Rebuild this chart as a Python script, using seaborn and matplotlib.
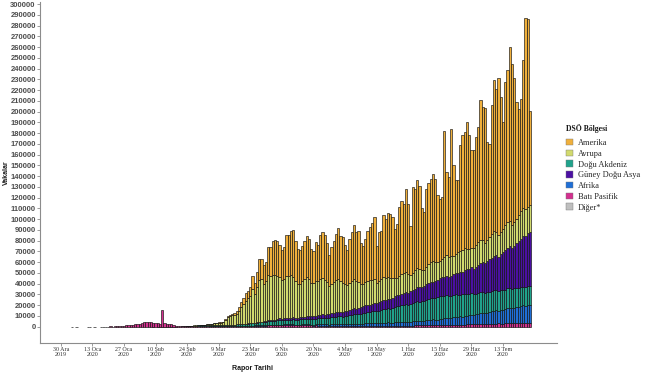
"""Daily COVID-19 cases by WHO region, stacked bar chart (WHO situation reports)."""

import matplotlib

matplotlib.use("Agg")

import matplotlib.pyplot as plt
import numpy as np
import pandas as pd
import seaborn as sns
from matplotlib.patches import Patch

# daily new cases in thousands, one value per report day starting 30 Dec 2019
AMERIKA = [
    0, 0, 0, 0, 0, 0, 0, 0, 0, 0,
    0, 0, 0, 0, 0, 0, 0, 0, 0, 0,
    0, 0, 0, 0, 0, 0, 0, 0, 0, 0,
    0, 0, 0, 0, 0, 0, 0, 0, 0, 0,
    0, 0, 0, 0, 0, 0, 0, 0, 0, 0,
    0, 0, 0, 0, 0, 0, 0, 0, 0, 0,
    0, 0,
    0.01, 0.02, 0.03, 0.05, 0.05, 0.05, 0.1, 0.1, 0.2, 0.3, 0.3, 1.1,
    0.9, 1.2, 1.5, 1.8, 2.5, 3.5, 5.0, 5.5, 6.8, 6.5, 8.0, 12.0, 11.0, 14.0,
    20.0, 19.0, 17.0, 18.0, 26.0, 27.0, 32.0, 33.0, 33.0, 30.0, 28.0, 30.0, 38.0,
    38.3, 40.9, 43.4, 37.4, 32.6, 31.6, 32.8, 35.6, 37.7, 37.3,
    31.3, 29.8, 36.1, 33.7, 40.6, 42.6, 41.3, 36.5, 28.9, 34.2,
    38.1, 42.2, 47.2, 41.3, 41.9, 36.2, 32.6, 41.3, 45.4, 50.8,
    45.7, 47.1, 37.9, 35.6, 40.7, 46.4, 49.5, 52.5, 57.7, 33.9,
    45.9, 44.9, 57.7,
    54.8, 59.0, 59.7, 56.6, 45.8, 50.0, 63.9, 67.9, 64.4, 77.2,
    64.9, 45.6, 79.6, 75.0, 81.5, 77.0, 57.4, 54.0, 72.1, 75.5,
    77.1, 81.0, 77.5, 61.9, 57.8, 57.1, 116.8, 77.0, 74.1, 118.5,
    84.3, 68.3, 66.6, 97.9, 106.7, 108.1, 117.8, 105.6, 90.4, 90.5,
    100.2, 107.4, 130.0, 123.5, 125.1, 91.6, 86.4, 119.7, 140.3, 132.2,
    145.8, 125.5, 98.8, 133.2, 141.0, 161.7, 149.1, 134.0, 108.4, 97.9,
    104.6, 137.9, 177.8, 174.9, 87.8,
]

AVRUPA = [
    0, 0, 0, 0, 0, 0, 0, 0, 0, 0,
    0, 0, 0, 0, 0, 0, 0, 0, 0, 0,
    0, 0, 0, 0, 0, 0, 0, 0, 0, 0,
    0, 0, 0, 0, 0, 0, 0, 0, 0, 0,
    0, 0, 0, 0, 0, 0, 0, 0, 0, 0,
    0, 0, 0, 0,
    0.02, 0.05, 0.1, 0.1, 0.2, 0.25, 0.2, 0.3, 0.6, 0.5,
    0.6, 0.8, 0.9, 1.3, 1.8, 2.0, 2.0, 2.5, 3.0, 5.0,
    7.4, 8.1, 8.7, 9.2, 9.8, 12.2, 15.6, 18.7, 21.5, 23.3, 25.3, 31.8, 26.4, 32.4,
    38.4, 39.5, 35.0, 36.6, 42.0, 41.0, 41.7, 41.3, 39.8, 38.4, 35.8, 36.3, 38.9,
    38.5, 40.0, 38.0, 34.5, 31.0, 30.5, 33.0, 35.0, 36.5, 35.0,
    31.0, 30.0, 32.5, 31.5, 33.5, 34.0, 32.5, 30.0, 26.5, 27.5,
    29.0, 30.5, 31.0, 29.0, 27.5, 25.5, 23.5, 25.0, 26.0, 27.0,
    25.5, 24.5, 22.0, 20.5, 21.5, 22.5, 23.0, 22.0, 22.5, 19.0,
    19.5, 20.5, 21.0,
    20.0, 20.5, 19.5, 18.5, 17.0, 16.5, 17.5, 18.5, 18.0, 18.5,
    17.5, 15.5, 16.0, 17.5, 18.0, 17.5, 16.0, 15.0, 16.5, 17.5,
    18.5, 19.0, 18.0, 16.5, 16.0, 17.5, 19.0, 19.5, 18.5, 18.5,
    17.0, 17.5, 19.0, 20.0, 20.5, 20.5, 19.0,
    18.5, 18.0, 19.5, 20.5, 21.0, 21.5, 20.5, 19.0, 19.5, 21.0,
    22.0, 22.5, 21.5, 20.0, 20.5, 22.0, 23.0, 24.0, 23.5, 22.0,
    21.5, 23.0, 24.5, 25.5, 26.0, 25.0, 24.0, 25.0,
]

DOGU_AKDENIZ = [
    0, 0, 0, 0, 0, 0, 0, 0, 0, 0,
    0, 0, 0, 0, 0, 0, 0, 0, 0, 0,
    0, 0, 0, 0, 0, 0, 0, 0, 0, 0,
    0, 0, 0, 0, 0, 0, 0, 0, 0, 0,
    0, 0, 0, 0, 0, 0, 0, 0, 0, 0,
    0, 0, 0, 0, 0, 0,
    0.02, 0.05, 0.1, 0.1, 0.2, 0.25, 0.4, 0.55, 0.6, 0.8,
    0.7, 1.1, 1.2, 1.1, 1.3, 1.0, 1.0, 1.1,
    1.3, 1.3, 1.4, 1.5, 1.6, 1.6, 1.5, 1.9, 1.6, 1.9, 2.0, 2.2, 2.0, 2.5,
    2.7, 2.6, 3.0, 3.2, 3.4, 3.6, 3.5, 3.8, 4.0, 4.2, 3.9, 4.1, 4.3,
    4.4, 4.2, 4.5, 4.3, 4.6, 4.8, 4.7, 4.9, 5.1, 4.9,
    5.2, 5.5, 5.3, 5.6, 5.9, 6.1, 5.8, 6.0, 6.3, 6.6,
    6.8, 7.0, 7.3, 7.5, 7.2, 7.6, 7.9, 8.3, 8.6, 8.9,
    8.7, 9.0, 9.4, 9.8, 10.1, 10.4, 10.2, 10.7, 11.1, 11.5,
    11.3, 11.8, 12.4, 12.9, 13.2, 12.8, 13.5, 14.1, 14.6, 15.0,
    15.3, 15.7, 16.2, 15.8, 16.5, 17.1, 17.6, 18.0, 17.4, 18.1,
    18.7, 19.2, 19.8, 20.3, 19.6, 20.4, 21.0, 21.5, 21.2, 20.6,
    21.3, 21.0, 20.4, 20.8, 21.2, 20.5, 20.0, 20.6, 20.9, 20.2,
    19.8, 20.3, 19.5, 19.1, 19.7, 20.0, 19.4, 18.9, 19.3, 19.0,
    18.6, 19.1, 18.8, 18.3, 18.7, 18.2, 17.9, 18.4, 18.0, 17.6,
    18.1, 17.7, 17.4, 17.9, 17.5, 17.2, 17.7, 17.3,
]

GUNEY_DOGU_ASYA = [
    0, 0, 0, 0, 0, 0, 0, 0, 0, 0,
    0, 0, 0, 0, 0, 0, 0, 0, 0, 0,
    0, 0, 0, 0, 0, 0, 0, 0, 0, 0,
    0, 0, 0, 0, 0, 0, 0, 0, 0, 0,
    0, 0, 0, 0, 0, 0, 0, 0, 0, 0,
    0, 0, 0, 0, 0, 0, 0, 0, 0, 0,
    0, 0, 0, 0, 0,
    0.01, 0.01, 0.02, 0.02, 0.02, 0.03, 0.03, 0.04, 0.05,
    0.06, 0.07, 0.08, 0.1, 0.12, 0.15, 0.15, 0.2, 0.25, 0.3,
    0.35, 0.4, 0.45, 0.5, 0.6, 0.6, 0.7, 0.8, 1.0, 1.2, 1.0, 1.1, 1.3, 1.4, 1.3, 1.5, 1.6,
    1.6, 1.7, 1.8, 1.8, 1.9, 2.1, 2.3, 2.2, 2.4, 2.6,
    2.5, 2.7, 2.9, 3.0, 2.9, 3.1, 3.2, 3.4, 3.3, 3.6,
    3.8, 4.0, 4.1, 3.9, 4.2, 4.5, 4.7, 4.9, 5.3, 5.6,
    5.4, 5.7, 6.0, 6.3, 6.6, 6.5, 6.9, 7.3, 7.5, 7.4,
    7.8, 8.2, 8.6, 8.4, 8.9, 9.3, 9.6, 9.9, 10.2, 10.0,
    10.6, 11.1, 11.4, 11.2, 11.8, 12.3, 12.6, 13.0, 13.4, 13.1,
    13.8, 14.3, 14.9, 15.2, 15.6, 15.3, 16.0, 16.6, 17.2, 17.8,
    18.1, 17.7, 18.5, 19.3, 20.1, 20.6, 21.3, 20.8, 21.7, 22.6,
    23.4, 24.1, 23.6, 24.8, 25.9, 27.0, 28.2, 27.5, 28.9, 30.2,
    31.5, 32.4, 33.0, 32.1, 33.8, 35.2, 36.9, 38.0, 39.2, 38.1,
    39.9, 41.8, 43.6, 44.9, 46.8, 47.5, 49.2, 50.6,
]

AFRIKA = [
    0, 0, 0, 0, 0, 0, 0, 0, 0, 0,
    0, 0, 0, 0, 0, 0, 0, 0, 0, 0,
    0, 0, 0, 0, 0, 0, 0, 0, 0, 0,
    0, 0, 0, 0, 0, 0, 0, 0, 0, 0,
    0, 0, 0, 0, 0, 0, 0, 0, 0, 0,
    0, 0, 0, 0, 0, 0, 0, 0, 0, 0,
    0, 0, 0, 0, 0, 0,
    0.01, 0.01, 0.01, 0.01, 0.02, 0.02, 0.03, 0.04,
    0.05, 0.06, 0.06, 0.07, 0.08, 0.1, 0.12, 0.15, 0.16, 0.18,
    0.2, 0.2, 0.25, 0.3, 0.3, 0.35, 0.3, 0.35, 0.4, 0.45, 0.5, 0.5, 0.5, 0.55, 0.5, 0.55, 0.6,
    0.6, 0.7, 0.7, 0.6, 0.6, 0.7, 0.8, 0.8, 0.9, 0.9,
    0.8, 0.9, 1.0, 1.1, 1.1, 1.2, 1.3, 1.2, 1.2, 1.3,
    1.4, 1.5, 1.6, 1.6, 1.5, 1.6, 1.7, 1.8, 2.0, 2.1,
    2.0, 2.0, 2.1, 2.2, 2.4, 2.5, 2.6, 2.7, 2.5, 2.5,
    2.7, 2.8, 3.0, 3.0, 3.1, 2.9, 3.0, 3.3, 3.5, 3.6,
    3.7, 3.8, 3.6, 3.5, 3.6, 3.9, 4.1, 4.3, 4.4, 4.2,
    4.3, 4.6, 4.9, 5.1, 5.3, 5.0, 5.2, 5.6, 5.9, 6.2,
    6.4, 6.0, 6.3, 6.8, 7.2, 7.5, 7.6, 7.4, 7.8, 8.3,
    8.6, 9.0, 8.7, 9.1, 9.6, 10.1, 10.4, 10.0, 10.3, 10.9,
    11.5, 11.9, 12.2, 11.8, 12.3, 13.0, 13.6, 14.0, 14.3, 13.8,
    14.2, 14.9, 15.5, 15.8, 16.2, 15.7, 16.3, 16.8,
]

BATI_PASIFIK = [
    0, 0, 0, 0, 0, 0.04, 0, 0.03, 0, 0, 0, 0, 0.02, 0.02, 0, 0.03, 0,
    0, 0.02, 0.04, 0.08, 0.15, 0.28, 0.15, 0.3, 0.5, 0.7,
    0.8, 1.1, 1.5, 1.5, 1.8, 2.0, 2.1, 2.6, 2.8, 3.6,
    4.2, 4.4, 4.0, 4.1, 3.5, 3.6, 3.2, 2.8, 15.1, 3.3,
    2.6, 2.3, 2.0, 1.9, 0.9, 0.6, 0.9, 0.6, 0.5, 0.9,
    0.9, 0.7, 0.8, 0.9, 1.0, 0.8, 0.7, 0.7, 0.6, 0.5, 0.5, 0.4, 0.4, 0.4, 0.3, 0.3, 0.3,
    0.3, 0.3, 0.3, 0.3, 0.4, 0.5, 0.6, 0.6, 0.7, 0.8,
    0.8, 0.9, 0.9, 0.9, 1.0, 1.0, 1.0, 1.1, 1.2, 1.2, 1.3, 1.3, 1.4, 1.5, 1.5, 1.6, 1.6,
    1.6, 1.5, 1.6, 1.4, 1.3, 1.3, 1.4, 1.5, 1.4, 1.3,
    1.2, 1.1, 1.2, 1.1, 1.0, 1.0, 0.9, 0.9, 0.8, 0.8,
    0.9, 0.8, 0.8, 0.7, 0.7, 0.6, 0.6, 0.7, 0.7, 0.6,
    0.7, 0.7, 0.6, 0.6, 0.7, 0.7, 0.8, 0.8, 0.7, 0.7,
    0.8, 0.8, 0.8, 0.9, 0.9, 0.8, 0.8, 0.9, 0.9, 1.0,
    1.0, 1.0, 1.1, 1.1, 1.0, 1.1, 1.2, 1.2, 1.3, 1.2,
    1.2, 1.3, 1.4, 1.4, 1.5, 1.4, 1.4, 1.5, 1.6, 1.6,
    1.7, 1.7, 1.8, 1.8, 1.7, 1.8, 1.9, 2.0, 2.0, 2.1,
    2.1, 2.2, 2.2, 2.3, 2.4, 2.4, 2.5, 2.5, 2.4, 2.5,
    2.7, 2.8, 2.9, 3.0, 2.9, 2.8, 3.0, 3.2, 3.3, 3.4,
    3.3, 3.2, 3.1, 3.3, 3.6, 3.8, 3.9, 3.5,
]

DIGER = [
    0, 0, 0, 0, 0, 0, 0, 0, 0, 0,
    0, 0, 0, 0, 0, 0, 0, 0, 0, 0,
    0, 0, 0, 0, 0, 0, 0, 0, 0, 0,
    0, 0, 0, 0, 0, 0, 0, 0, 0, 0,
    0,
    0.06, 0, 0.04, 0.04, 0.05, 0.07, 0.1, 0.07, 0.1, 0.08, 0.08,
    0, 0, 0, 0, 0, 0, 0, 0, 0, 0,
    0, 0, 0, 0, 0, 0, 0, 0, 0, 0,
    0, 0, 0, 0, 0, 0, 0, 0, 0, 0,
    0, 0, 0, 0, 0, 0, 0, 0, 0, 0,
    0, 0, 0, 0, 0, 0, 0, 0, 0, 0,
    0, 0, 0, 0, 0, 0, 0, 0, 0, 0,
    0, 0, 0, 0, 0, 0, 0, 0, 0, 0,
    0, 0, 0, 0, 0, 0, 0, 0, 0, 0,
    0, 0, 0, 0, 0, 0, 0, 0, 0, 0,
    0, 0, 0, 0, 0, 0, 0, 0, 0, 0,
    0, 0, 0, 0, 0, 0, 0, 0, 0, 0,
    0, 0, 0, 0, 0, 0, 0, 0, 0, 0,
    0, 0, 0, 0, 0, 0, 0, 0, 0, 0,
    0, 0, 0, 0, 0, 0, 0, 0, 0, 0,
    0, 0, 0, 0, 0, 0, 0, 0, 0, 0,
    0, 0, 0, 0, 0, 0, 0,
]

LEGEND_ORDER = ["Amerika", "Avrupa", "Doğu Akdeniz", "Güney Doğu Asya", "Afrika", "Batı Pasifik", "Diğer*"]
STACK_ORDER = ["Amerika", "Avrupa", "Güney Doğu Asya", "Doğu Akdeniz", "Afrika", "Batı Pasifik", "Diğer*"]
REGION_COLORS = {
    "Amerika": "#F0B03C",
    "Avrupa": "#D2DA6E",
    "Doğu Akdeniz": "#20A38C",
    "Güney Doğu Asya": "#4B10A3",
    "Afrika": "#1F6FD6",
    "Batı Pasifik": "#D3308F",
    "Diğer*": "#BFBFBF",
}

TICK_DAYS = [0, 14, 28, 42, 56, 70, 84, 98, 112, 126, 140, 154, 168, 182, 196]
TICK_LABELS = [
    "30 Ara\n2019", "13 Oca\n2020", "27 Oca\n2020", "10 Şub\n2020", "24 Şub\n2020",
    "9 Mar\n2020", "23 Mar\n2020", "6 Nis\n2020", "20 Nis\n2020", "4 May\n2020",
    "18 May\n2020", "1 Haz\n2020", "15 Haz\n2020", "29 Haz\n2020", "13 Tem\n2020",
]
Y_TICKS = list(range(0, 300001, 10000))


def build_frame() -> pd.DataFrame:
    """Long table: one row per report day and region."""
    series = {
        "Amerika": AMERIKA,
        "Avrupa": AVRUPA,
        "Doğu Akdeniz": DOGU_AKDENIZ,
        "Güney Doğu Asya": GUNEY_DOGU_ASYA,
        "Afrika": AFRIKA,
        "Batı Pasifik": BATI_PASIFIK,
        "Diğer*": DIGER,
    }
    frames = []
    for region, values in series.items():
        frames.append(
            pd.DataFrame(
                {
                    "gun": np.arange(len(values)),
                    "bolge": region,
                    "vaka": np.asarray(values, dtype=float) * 1000,
                }
            )
        )
    return pd.concat(frames, ignore_index=True)


def draw(df: pd.DataFrame) -> None:
    sns.set_style("ticks")
    plt.rcParams["font.family"] = ["Liberation Sans", "DejaVu Sans"]

    fig = plt.figure(figsize=(6.5, 3.81), dpi=100)
    ax = fig.add_axes([0.0615, 0.0997, 0.795, 0.895])

    sns.histplot(
        data=df,
        x="gun",
        weights="vaka",
        hue="bolge",
        hue_order=STACK_ORDER,
        palette=REGION_COLORS,
        multiple="stack",
        discrete=True,
        shrink=1.0,
        alpha=1.0,
        edgecolor="#111111",
        linewidth=0.45,
        legend=False,
        ax=ax,
    )
    # empty days would otherwise leave an outline on the baseline
    for patch in ax.patches:
        if patch.get_height() == 0:
            patch.set_visible(False)

    ax.set_xlim(-9.2, 219.8)
    ax.set_ylim(-15150, 301850)
    sns.despine(ax=ax)
    for side in ("left", "bottom"):
        ax.spines[side].set_color("#8c8c8c")
        ax.spines[side].set_linewidth(0.8)

    ax.set_yticks(Y_TICKS)
    ax.set_yticklabels([str(v) for v in Y_TICKS], fontsize=5.5, fontweight="bold", color="#4d4d4d")
    ax.set_xticks(TICK_DAYS)
    ax.set_xticklabels(TICK_LABELS, fontsize=4.3, family="Liberation Serif", color="#333333")
    for label in ax.get_xticklabels():
        label.set_linespacing(1.0)
    ax.tick_params(axis="both", length=2, width=0.6, color="#8c8c8c", pad=1)

    ax.set_xlabel("Rapor Tarihi", fontsize=5, fontweight="bold", color="#1a1a1a")
    ax.set_ylabel("Vakalar", fontsize=5, fontweight="bold", color="#1a1a1a")
    ax.xaxis.set_label_coords(0.412, -0.064)
    ax.yaxis.set_label_coords(-0.058, 0.5)
    ax.grid(False)

    handles = [
        Patch(facecolor=REGION_COLORS[r], edgecolor="#777777", linewidth=0.3, label=r)
        for r in LEGEND_ORDER
    ]
    ax.legend(
        handles=handles,
        loc="upper left",
        bbox_to_anchor=(566 / 650, 1 - 139 / 381),
        bbox_transform=fig.transFigure,
        frameon=False,
        prop={"family": "Liberation Serif", "size": 6},
        handlelength=0.8,
        handleheight=0.8,
        handletextpad=0.6,
        labelspacing=0.32,
        borderpad=0,
        borderaxespad=0,
    )
    fig.text(566 / 650, 1 - 128.3 / 381, "DSÖ Bölgesi", family="Liberation Serif",
             fontweight="bold", fontsize=5.6, ha="left", va="center", color="#1a1a1a")

    fig.savefig("out.png", dpi=100)
    plt.close(fig)


if __name__ == "__main__":
    draw(build_frame())
